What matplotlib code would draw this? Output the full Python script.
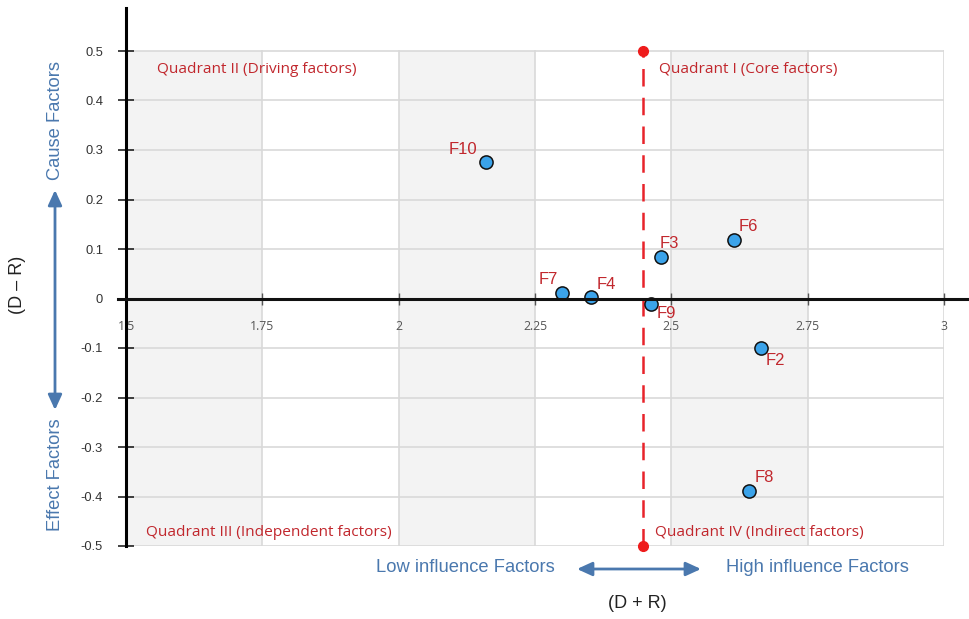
import matplotlib
matplotlib.use("Agg")
import matplotlib.pyplot as plt
from matplotlib.lines import Line2D
from matplotlib.patches import FancyArrowPatch

# DEMATEL cause-effect diagram data
factors = ["F10", "F7", "F4", "F9", "F3", "F6", "F2", "F8"]
d_plus_r = [2.160, 2.300, 2.353, 2.463, 2.481, 2.615, 2.665, 2.643]
d_minus_r = [0.276, 0.011, 0.003, -0.011, 0.084, 0.118, -0.100, -0.389]
mean_d_plus_r = 2.448

x_ticks = [1.5, 1.75, 2.0, 2.25, 2.5, 2.75, 3.0]
x_tick_labels = ["1.5", "1.75", "2", "2.25", "2.5", "2.75", "3"]
y_ticks = [0.5, 0.4, 0.3, 0.2, 0.1, 0.0, -0.1, -0.2, -0.3, -0.4, -0.5]
y_tick_labels = ["0.5", "0.4", "0.3", "0.2", "0.1", "0", "-0.1", "-0.2", "-0.3", "-0.4", "-0.5"]

quadrant_labels = ["Quadrant II (Driving factors)", "Quadrant I (Core factors)",
                   "Quadrant III (Independent factors)", "Quadrant IV (Indirect factors)"]

# label offsets in points (dx, dy) and alignment
label_pos = {
    "F10": (-6, 9, "right"), "F7": (-3, 10, "right"), "F4": (4, 9, "left"),
    "F9": (4, -7, "left"), "F3": (-1, 10, "left"), "F6": (3, 10, "left"),
    "F2": (3, -9, "left"), "F8": (4, 10, "left"),
}

RED = "#c1272d"
BLUE = "#4a78ae"
SANS = "Liberation Sans"

W, H = 969, 619
fig = plt.figure(figsize=(W / 100, H / 100), dpi=100)
ax = fig.add_axes([126 / W, 1 - 546 / H, (944 - 126) / W, (546 - 8) / H])
ax.set_xlim(1.5, 3.0)
ax.set_ylim(-0.5, 0.5 + 43 / 495)
ax.set_facecolor("white")

# alternating vertical bands
for i in range(len(x_ticks) - 1):
    if i % 2 == 0:
        ax.fill_between([x_ticks[i], x_ticks[i + 1]], -0.5, 0.5, color="#f3f3f3", lw=0, zorder=0)

# grid
for yv in y_ticks:
    ax.plot([1.5, 3.0], [yv, yv], color="#d9d9d9", lw=1.2, zorder=1)
for xv in x_ticks[1:]:
    ax.plot([xv, xv], [-0.5, 0.5], color="#d9d9d9", lw=1.2, zorder=1)

# axes lines
for s in ["top", "right", "bottom"]:
    ax.spines[s].set_visible(False)
ax.spines["left"].set_linewidth(2.2)
ax.spines["left"].set_zorder(5)
ax.spines["bottom"].set_position(("data", 0))

x0_line = Line2D([118 / W, 1.0], [1 - 298.5 / H, 1 - 298.5 / H], transform=fig.transFigure,
                 color="#111111", lw=2.2, zorder=4)
fig.add_artist(x0_line)

ax.set_xticks(x_ticks)
ax.set_xticklabels(x_tick_labels, fontfamily="Open Sans", fontsize=8.8, color="#555555")
ax.tick_params(axis="x", direction="inout", length=9, width=1, color="#555555", pad=11)
ax.set_yticks(y_ticks)
ax.set_yticklabels(y_tick_labels, fontfamily=SANS, fontsize=9.3, color="#333333")
ax.tick_params(axis="y", direction="inout", length=11, width=1.1, color="#111111", pad=11)

# threshold line
ax.plot([mean_d_plus_r, mean_d_plus_r], [-0.5, 0.5], color="#e8232a", lw=1.8,
        dashes=(7, 4.5), zorder=3)
ax.plot([mean_d_plus_r, mean_d_plus_r], [-0.5, 0.5], "o", color="#ee1c1c", ms=7,
        clip_on=False, zorder=6)

# points
ax.scatter(d_plus_r, d_minus_r, s=90, color="#3ba3ea", edgecolor="#111111", lw=1.1, zorder=7)
for name, xv, yv in zip(factors, d_plus_r, d_minus_r):
    dx, dy, ha = label_pos[name]
    ax.annotate(name, (xv, yv), xytext=(dx, dy), textcoords="offset points",
                ha=ha, va="center", color=RED, fontsize=12, fontfamily=SANS, zorder=8)

# quadrant labels
qfont = dict(fontfamily="Open Sans", fontsize=11.1, color=RED, zorder=8)
ax.text(1.557, 0.462, quadrant_labels[0], ha="left", va="center", **qfont)
ax.text(2.477, 0.462, quadrant_labels[1], ha="left", va="center", **qfont)
ax.text(1.537, -0.472, quadrant_labels[2], ha="left", va="center", **qfont)
ax.text(2.470, -0.472, quadrant_labels[3], ha="left", va="center", **qfont)

# axis titles and direction hints
fig.text(18 / W, 1 - 285 / H, "(D – R)", rotation=90, ha="center", va="center",
         fontsize=13, fontfamily=SANS, color="#222222")
fig.text(637 / W, 1 - 603 / H, "(D + R)", ha="center", va="center",
         fontsize=13, fontfamily=SANS, color="#222222")
fig.text(55 / W, 1 - 120 / H, "Cause Factors", rotation=90, ha="center", va="center",
         fontsize=13.2, fontfamily=SANS, color=BLUE)
fig.text(55 / W, 1 - 475 / H, "Effect Factors", rotation=90, ha="center", va="center",
         fontsize=13.2, fontfamily=SANS, color=BLUE)
fig.text(465 / W, 1 - 567 / H, "Low influence Factors", ha="center", va="center",
         fontsize=13.2, fontfamily=SANS, color=BLUE)
fig.text(817 / W, 1 - 567 / H, "High influence Factors", ha="center", va="center",
         fontsize=13.2, fontfamily=SANS, color=BLUE)

arrow_kw = dict(transform=fig.transFigure, arrowstyle="<|-|>,head_length=0.7,head_width=0.32",
                color=BLUE, lw=2, mutation_scale=13, shrinkA=0, shrinkB=0)
fig.add_artist(FancyArrowPatch((55 / W, 1 - 190 / H), (55 / W, 1 - 410 / H), **arrow_kw))
fig.add_artist(FancyArrowPatch((577 / W, 1 - 569 / H), (701 / W, 1 - 569 / H), **arrow_kw))

fig.savefig("out.png", dpi=100)
